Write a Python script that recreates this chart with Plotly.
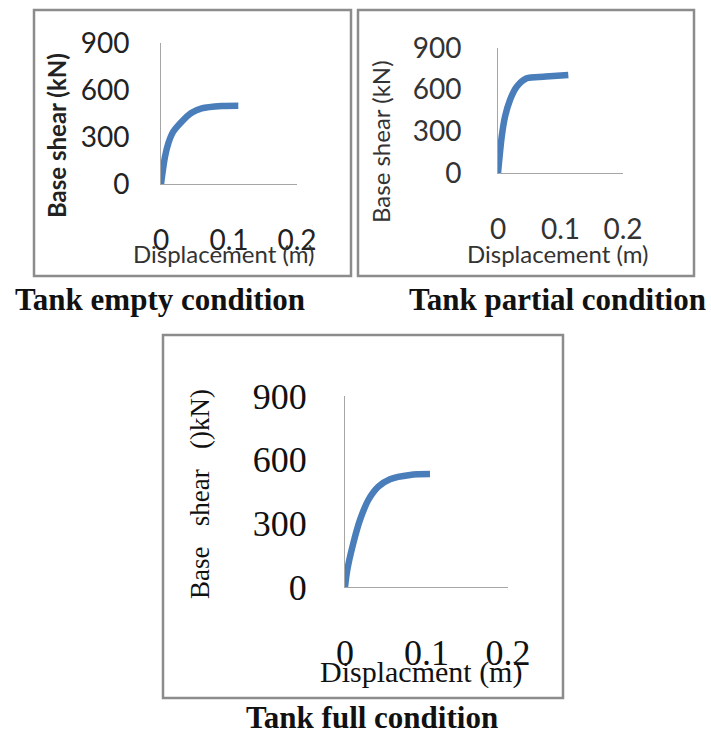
import plotly.graph_objects as go

# Pushover curves: displacement (m) vs base shear (kN)
empty_disp = [0.0, 0.0059, 0.0108, 0.018, 0.0304, 0.045, 0.0598, 0.0892, 0.1137]
empty_shear = [0, 174, 260, 334, 398, 455, 483, 498, 500]

partial_disp = [0.0, 0.002, 0.0059, 0.0112, 0.0192, 0.0299, 0.0459, 0.0725, 0.0885, 0.1125]
partial_shear = [0, 94, 261, 405, 526, 621, 682, 693, 698, 706]

full_disp = [0.0, 0.0028, 0.0102, 0.0184, 0.0286, 0.0409, 0.0552, 0.0798, 0.1043]
full_shear = [0, 80, 206, 316, 410, 473, 508, 528, 532]

x_ticks = [0, 0.1, 0.2]
x_tick_text = ["0", "0.1", "0.2"]
y_ticks = [0, 300, 600, 900]
y_tick_text = ["0", "300", "600", "900"]

captions = ["Tank empty condition", "Tank partial condition", "Tank full condition"]

W, H = 711, 736
LINE_BLUE = "#4a7ebb"
AXIS_GRAY = "#a6a6a6"
BOX_GRAY = "#8c8c8c"


def px_x(p):
    return p / W


def px_y(p):
    return 1 - p / H


fig = go.Figure()

panels = [
    dict(x=empty_disp, y=empty_shear, sfx="", xs=(161, 297), ys=(43, 184),
         font=dict(family="Lato", size=28, color="#222"), xstand=31, ystand=25),
    dict(x=partial_disp, y=partial_shear, sfx="2", xs=(498, 623), ys=(48, 173),
         font=dict(family="Lato", size=28, color="#333"), xstand=31, ystand=30),
    dict(x=full_disp, y=full_shear, sfx="3", xs=(345, 508), ys=(396, 587),
         font=dict(family="Liberation Serif", size=36, color="#111"), xstand=34, ystand=30),
]

layout_axes = {}
for p in panels:
    sfx = p["sfx"]
    fig.add_trace(go.Scatter(
        x=p["x"], y=p["y"], mode="lines",
        line=dict(color=LINE_BLUE, width=6.5, shape="spline", smoothing=0.8),
        xaxis="x" + sfx, yaxis="y" + sfx, showlegend=False,
        hoverinfo="skip",
    ))
    layout_axes["xaxis" + sfx] = dict(
        domain=[px_x(p["xs"][0]), px_x(p["xs"][1])],
        range=[0, 0.2], anchor="y" + sfx, automargin=False,
        showgrid=False, zeroline=False, showline=True,
        linecolor=AXIS_GRAY, linewidth=1,
        tickvals=x_ticks, ticktext=x_tick_text, ticks="",
        ticklabelstandoff=p["xstand"], tickfont=p["font"],
        fixedrange=True,
    )
    layout_axes["yaxis" + sfx] = dict(
        domain=[px_y(p["ys"][1]), px_y(p["ys"][0])],
        range=[0, 900], anchor="x" + sfx, automargin=False,
        showgrid=False, zeroline=False, showline=True,
        linecolor=AXIS_GRAY, linewidth=1,
        tickvals=y_ticks, ticktext=y_tick_text, ticks="",
        ticklabelstandoff=p["ystand"], tickfont=p["font"],
        fixedrange=True,
    )

# Panel frames
boxes = [(34, 10, 351, 276), (358, 10, 694, 276), (163, 335, 563, 698)]
shapes = [
    dict(type="rect", xref="paper", yref="paper",
         x0=px_x(b[0]), x1=px_x(b[2]), y0=px_y(b[3]), y1=px_y(b[1]),
         line=dict(color=BOX_GRAY, width=2.5), fillcolor="rgba(0,0,0,0)")
    for b in boxes
]

annotations = []


def add_text(text, x, y, font, angle=0):
    annotations.append(dict(
        text=text, x=px_x(x), y=px_y(y), xref="paper", yref="paper",
        xanchor="center", yanchor="middle", showarrow=False,
        textangle=angle, font=font,
    ))


# Axis titles
add_text("Displacement (m)", 223, 254, dict(family="Lato", size=24, color="#333"))
add_text("<b>Base shear (kN)</b>", 57, 136, dict(family="Lato", size=24, color="#222"), -90)
add_text("Displacement (m)", 557, 254, dict(family="Lato", size=24, color="#333"))
add_text("Base shear (kN)", 380, 141, dict(family="Lato", size=24, color="#333"), -90)
add_text("Displacment (m)", 421, 672, dict(family="Liberation Serif", size=30, color="#111"))
add_text("Base\u00a0\u00a0 shear\u00a0\u00a0 ()kN)", 200, 494,
         dict(family="Liberation Serif", size=27, color="#111"), -90)

# Captions
cap_font = dict(family="Liberation Serif", size=31, color="#111")
add_text("<b>%s</b>" % captions[0], 160, 299, cap_font)
add_text("<b>%s</b>" % captions[1], 557, 299, cap_font)
add_text("<b>%s</b>" % captions[2], 372, 717, cap_font)

fig.update_layout(
    template="none",
    width=W, height=H,
    margin=dict(l=0, r=0, t=0, b=0, autoexpand=False),
    paper_bgcolor="white", plot_bgcolor="white",
    shapes=shapes, annotations=annotations,
    **layout_axes,
)

fig.write_html("out.html", config={"displayModeBar": False})
